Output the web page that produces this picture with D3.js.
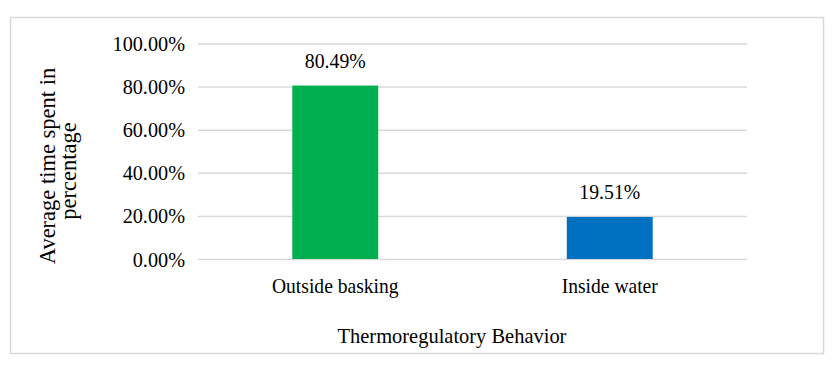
<!DOCTYPE html>
<html>
<head>
<meta charset="utf-8">
<script src="https://cdn.jsdelivr.net/npm/d3@7"></script>
<style>
  body { margin: 0; background: #fff; }
  svg text { font-family: "Liberation Serif", "Times New Roman", serif; fill: #000; }
</style>
</head>
<body>
<svg id="chart"></svg>
<script>
// data
const categories = ["Outside basking", "Inside water"];
const values = [80.49, 19.51];
const barColors = ["#00B050", "#0070C0"];
const yTicks = [0, 20, 40, 60, 80, 100];
const xTitle = "Thermoregulatory Behavior";
const yTitleLines = ["Average time spent in", "percentage"];

const width = 837, height = 370;
const svg = d3.select("#chart")
  .attr("width", width)
  .attr("height", height)
  .style("background-color", "#fff");

// text in the picture is a bit narrow for its height, so squeeze it sideways
function label(parent, x, y, str, anchor, size, sx) {
  return parent.append("text")
    .attr("transform", `translate(${x},${y}) scale(${sx},1)`)
    .attr("text-anchor", anchor)
    .attr("font-size", size)
    .text(str);
}

// chart frame
svg.append("rect")
  .attr("x", 10.5).attr("y", 17.5)
  .attr("width", 813).attr("height", 336)
  .attr("fill", "#fff")
  .attr("stroke", "#d9d9d9")
  .attr("stroke-width", 1.5);

const plot = { left: 198, right: 747, top: 43.5, bottom: 259 };

const x = d3.scaleBand()
  .domain(categories)
  .range([plot.left, plot.right])
  .paddingInner(0.687)
  .paddingOuter(0.3435);

const y = d3.scaleLinear()
  .domain([0, 100])
  .range([plot.bottom, plot.top]);

// gridlines
const yAxis = d3.axisLeft(y)
  .tickValues(yTicks)
  .tickSize(-(plot.right - plot.left))
  .tickFormat("");

const gy = svg.append("g")
  .attr("transform", `translate(${plot.left},0)`)
  .call(yAxis);
gy.select(".domain").remove();
gy.selectAll(".tick line").attr("stroke", "#d9d9d9").attr("stroke-width", 1.5);

// tick labels
yTicks.forEach(t => {
  label(svg, 185, y(t) + 7.5, t.toFixed(2) + "%", "end", 22, 0.92);
});

// bars
svg.selectAll(".bar")
  .data(values)
  .enter()
  .append("rect")
  .attr("class", "bar")
  .attr("x", (d, i) => x(categories[i]))
  .attr("y", d => y(d))
  .attr("width", x.bandwidth())
  .attr("height", d => y(0) - y(d))
  .attr("fill", (d, i) => barColors[i]);

// value labels
values.forEach((v, i) => {
  label(svg, x(categories[i]) + x.bandwidth() / 2, y(v) - 18, v.toFixed(2) + "%", "middle", 21.5, 0.92);
});

// category labels
categories.forEach(c => {
  label(svg, x(c) + x.bandwidth() / 2, 293, c, "middle", 21.5, 0.91);
});

// axis titles
label(svg, 452, 343, xTitle, "middle", 22, 0.93);

const yTitle = svg.append("g")
  .attr("transform", "translate(55,166) rotate(-90)");
yTitleLines.forEach((t, i) => {
  label(yTitle, i === 0 ? 0 : -5, i * 21, t, "middle", 22.5, 1);
});
</script>
</body>
</html>
